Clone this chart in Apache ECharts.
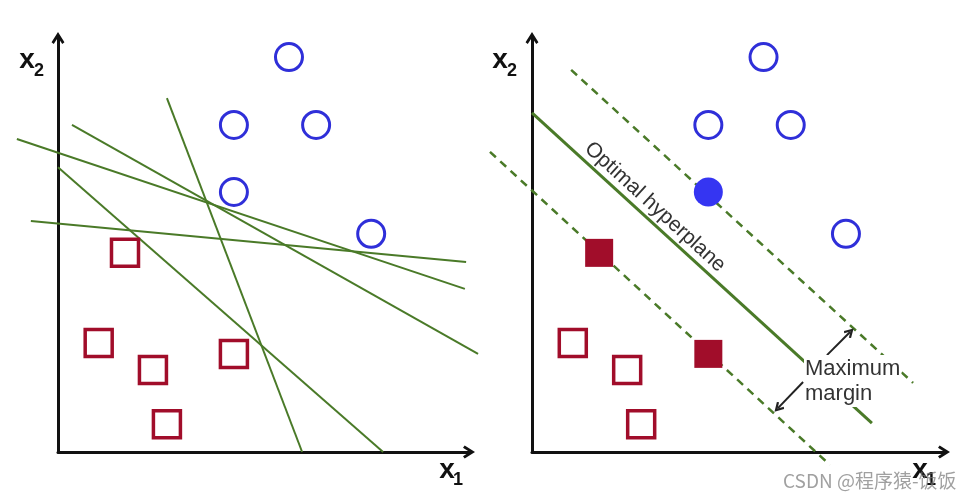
<!DOCTYPE html>
<html>
<head>
<meta charset="utf-8">
<script src="https://cdn.jsdelivr.net/npm/echarts@6/dist/echarts.min.js"></script>
<style>
  html, body { margin: 0; padding: 0; background: #fff; }
  #chart { width: 975px; height: 500px; }
</style>
</head>
<body>
<div id="chart"></div>
<script>
// the same sample points are used in both panels (units 0..10 on each axis)
const circleX = [5.62, 4.28, 6.28, 4.28, 7.62]
const circleY = [9.54, 7.90, 7.90, 6.28, 5.27]
const squareX = [1.63, 0.99, 2.31, 4.28, 2.65]
const squareY = [4.81, 2.63, 1.98, 2.37, 0.67]
// support vectors (filled in the right panel)
const supportCircles = [3]
const supportSquares = [0, 3]

// left panel: candidate separating lines, [start, end]
const candLinesX = [[-1.0, 9.9], [0.34, 10.22], [-0.66, 9.93], [0, 7.91], [2.65, 5.94]]
const candLinesY = [[7.56, 3.94], [7.90, 2.37], [5.58, 4.59], [6.88, 0], [8.55, 0]]

// right panel: hyperplane and the two margins
const hyperX = [[0, 8.25]]
const hyperY = [[8.19, 0.70]]
const marginX = [[0.95, 9.25], [-1.02, 7.23]]
const marginY = [[9.23, 1.67], [7.25, -0.31]]
// "Maximum margin" arrows, [from, to]
const arrowX = [[7.16, 7.72], [6.58, 5.97]]
const arrowY = [[2.34, 2.90], [1.69, 1.06]]

const green = '#4a7a28'
const blue = '#2f2fd9'
const red = '#a10d2a'
const font = '"Liberation Sans", Arial, sans-serif'
const chevron = 'path://M5,0 L10,8 L8.3,9.3 L5,4.2 L1.7,9.3 L0,8 Z'

const pts = (xs, ys) => xs.map((x, i) => [x, ys[i]])
const pick = (xs, ys, idx) => idx.map(i => [xs[i], ys[i]])
const skip = (xs, ys, idx) => xs.map((x, i) => [x, ys[i]]).filter((_, i) => !idx.includes(i))

const axis = (i) => ({
  gridIndex: i,
  type: 'value',
  min: 0,
  max: 10,
  axisLine: {
    show: true,
    symbol: ['none', chevron],
    symbolSize: [15, 12],
    lineStyle: { color: '#111', width: 3 }
  },
  axisTick: { show: false },
  axisLabel: { show: false },
  splitLine: { show: false }
})

// straight segments, not clipped to the grid (some start left of the y axis)
const segments = (gi, xs, ys, style) => ({
  type: 'custom',
  xAxisIndex: gi,
  yAxisIndex: gi,
  clip: false,
  silent: true,
  z: 2,
  data: xs.map((x, i) => [x[0], ys[i][0], x[1], ys[i][1]]),
  encode: { x: [0, 2], y: [1, 3] },
  renderItem: (params, api) => {
    const a = api.coord([api.value(0), api.value(1)])
    const b = api.coord([api.value(2), api.value(3)])
    return {
      type: 'line',
      shape: { x1: a[0], y1: a[1], x2: b[0], y2: b[1] },
      style: Object.assign({ stroke: green, fill: null }, style)
    }
  }
})

const scatter = (gi, data, symbol, size, itemStyle) => ({
  type: 'scatter',
  xAxisIndex: gi,
  yAxisIndex: gi,
  data,
  symbol,
  symbolSize: size,
  silent: true,
  z: 5,
  itemStyle: Object.assign({ opacity: 1 }, itemStyle)
})

const hollowCircle = { color: 'rgba(0,0,0,0)', borderColor: blue, borderWidth: 3 }
const hollowSquare = { color: 'rgba(0,0,0,0)', borderColor: red, borderWidth: 3.5 }

const series = [
  // left panel
  segments(0, candLinesX, candLinesY, { lineWidth: 2 }),
  scatter(0, pts(circleX, circleY), 'circle', 27, hollowCircle),
  scatter(0, pts(squareX, squareY), 'rect', 27, hollowSquare),
  // right panel
  segments(1, hyperX, hyperY, { lineWidth: 3 }),
  segments(1, marginX, marginY, { lineWidth: 2.5, lineDash: [8, 6] }),
  scatter(1, skip(circleX, circleY, supportCircles), 'circle', 27, hollowCircle),
  scatter(1, pick(circleX, circleY, supportCircles), 'circle', 29, { color: '#3535f2' }),
  scatter(1, skip(squareX, squareY, supportSquares), 'rect', 27, hollowSquare),
  scatter(1, pick(squareX, squareY, supportSquares), 'rect', 28, { color: red }),
  {
    type: 'lines',
    coordinateSystem: 'cartesian2d',
    xAxisIndex: 1,
    yAxisIndex: 1,
    silent: true,
    z: 6,
    symbol: ['none', chevron],
    symbolSize: 10,
    lineStyle: { color: '#222', width: 2, opacity: 1 },
    data: arrowX.map((xs, i) => ({ coords: pts(xs, arrowY[i]) }))
  }
]

const label = (text, x, y, size, bold) => ({
  type: 'text',
  x, y, z: 100,
  style: {
    text, fill: '#111',
    font: `${bold ? 'bold ' : ''}${size}px ${font}`,
    textAlign: 'center', textVerticalAlign: 'middle'
  }
})

const chart = echarts.init(document.getElementById('chart'))
chart.setOption({
  animation: false,
  backgroundColor: '#fff',
  grid: [
    { left: 58, top: 38, width: 411, height: 414 },
    { left: 532, top: 38, width: 412, height: 414 }
  ],
  xAxis: [axis(0), axis(1)],
  yAxis: [axis(0), axis(1)],
  series,
  graphic: [
    label('x', 27, 60, 28, true), label('2', 39, 71, 18, true),
    label('x', 500, 60, 28, true), label('2', 512, 71, 18, true),
    label('x', 447, 470, 28, true), label('1', 458, 480, 18, true),
    label('x', 920, 470, 28, true), label('1', 931, 480, 18, true),
    {
      type: 'text',
      x: 655, y: 207, z: 100,
      rotation: -0.739,
      style: {
        text: 'Optimal hyperplane', fill: '#333',
        font: `21px ${font}`,
        textAlign: 'center', textVerticalAlign: 'middle'
      }
    },
    {
      type: 'text',
      x: 804, y: 355, z: 100,
      style: {
        text: 'Maximum\nmargin', fill: '#333',
        font: `22px ${font}`, lineHeight: 25,
        backgroundColor: '#fff',
        padding: [1, 1, 1, 1],
        textAlign: 'left', textVerticalAlign: 'top'
      }
    },
    {
      type: 'text',
      x: 783, y: 481, z: 101,
      style: {
        text: 'CSDN @程序猿-饭饭', fill: 'rgba(120,120,120,0.7)',
        font: '19px "Noto Sans CJK SC", "Liberation Sans", sans-serif',
        textAlign: 'left', textVerticalAlign: 'middle'
      }
    }
  ]
})
</script>
</body>
</html>
